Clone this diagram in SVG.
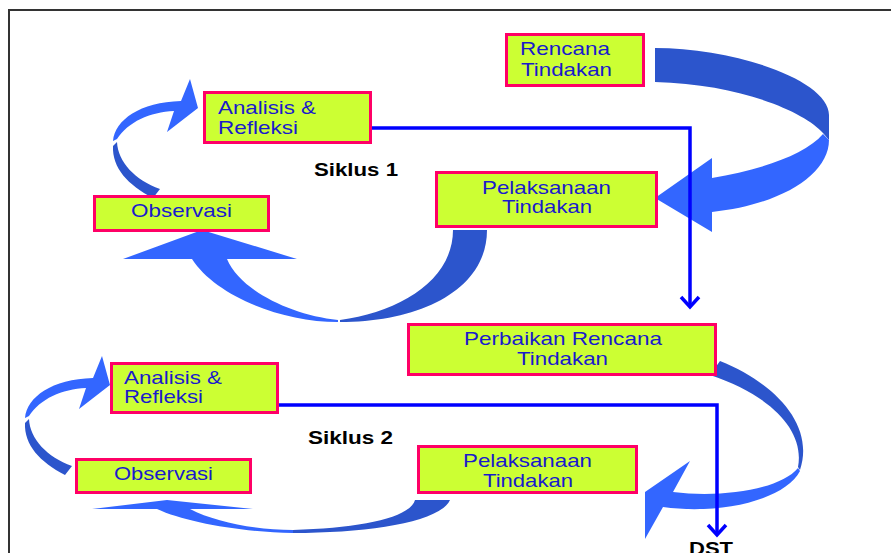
<svg xmlns="http://www.w3.org/2000/svg" width="891" height="553" viewBox="0 0 891 553">
<style>
.box{fill:#CCFF33;stroke:#FF0066;stroke-width:3}
.t{font-family:"Liberation Sans",Arial,sans-serif;font-size:19px;fill:#1a1acc}
.b{font-family:"Liberation Sans",Arial,sans-serif;font-size:18px;font-weight:bold;fill:#000}
.dk{fill:#2C55CC}
.br{fill:#3366FF}
.ln{fill:none;stroke:#0000FF;stroke-width:3.5}
</style>
<rect x="0" y="0" width="891" height="553" fill="#fff"/>
<path d="M9,560 L9,10 L900,10" fill="none" stroke="#333" stroke-width="2"/>
<g id="arcs">
<path class="dk" d="M655,48 C735,48 829,80 829,115 L829,140 L823,133 C805,112 740,84 655,82 Z"/>
<path class="br" d="M829,140 C829,175 780,205 712,212 L712,232 L655,198 L712,158 L712,178 C760,170 805,155 823,134 Z"/>
<path class="dk" d="M453,230 L487,230 C487,290 420,322 340,322 L340,320 C400,312 453,280 453,230 Z"/>
<path class="br" d="M338,322 C280,322 215,295 192,259 L123,259 L202,230 L297,259 L227,259 C240,290 290,315 338,320 Z"/>
<path class="dk" d="M153,198 C128,185 112,168 113,146 L117,142 C118,162 135,180 160,189 Z"/>
<path class="br" d="M113,141 C115,120 140,102 181,101 L190,79 L198,108 L167,132 L174,111 C150,112 128,122 117,139 Z"/>
<path class="dk" d="M720,361 C775,383 815,425 800,470 L798,467 C805,430 770,395 710,375 Z"/>
<path class="br" d="M800,471 C785,500 720,515 663,507 L645,539 L645,492 L690,461 L673,492 C720,498 780,490 798,468 Z"/>
<path class="dk" d="M415,500 L450,500 C440,522 370,533 293,533 L293,530 C360,528 410,518 415,500 Z"/>
<path class="br" d="M293,533 C240,532 185,522 157,509 L92,509 L167,500 L253,509 L190,509 C215,522 255,530 293,530 Z"/>
<g transform="translate(-88,277)">
<path class="dk" d="M153,198 C128,185 112,168 113,146 L117,142 C118,162 135,180 160,189 Z"/>
<path class="br" d="M113,141 C115,120 140,102 181,101 L190,79 L198,108 L167,132 L174,111 C150,112 128,122 117,139 Z"/>
</g>
</g>
<g id="rencana">
<rect class="box" x="506.5" y="34.5" width="137" height="51"/>
<text class="t" x="520" y="55" textLength="90" lengthAdjust="spacingAndGlyphs">Rencana</text>
<text class="t" x="521" y="76" textLength="91" lengthAdjust="spacingAndGlyphs">Tindakan</text>
</g>
<g id="analisis1">
<rect class="box" x="204.5" y="92.5" width="166" height="50"/>
<text class="t" x="218" y="114" textLength="98" lengthAdjust="spacingAndGlyphs">Analisis &amp;</text>
<text class="t" x="218" y="134" textLength="80" lengthAdjust="spacingAndGlyphs">Refleksi</text>
</g>
<g id="pelaksanaan1">
<rect class="box" x="436.5" y="172.5" width="220" height="54"/>
<text class="t" x="482" y="194" textLength="129" lengthAdjust="spacingAndGlyphs">Pelaksanaan</text>
<text class="t" x="502" y="213" textLength="90" lengthAdjust="spacingAndGlyphs">Tindakan</text>
</g>
<g id="observasi1">
<rect class="box" x="94.5" y="196.5" width="174" height="34"/>
<text class="t" x="131" y="217" textLength="101" lengthAdjust="spacingAndGlyphs">Observasi</text>
</g>
<g id="siklus1">
<text class="b" x="314" y="176" textLength="84" lengthAdjust="spacingAndGlyphs">Siklus 1</text>
</g>
<g id="perbaikan">
<rect class="box" x="408.5" y="324.5" width="307" height="50"/>
<text class="t" x="464" y="345" textLength="198" lengthAdjust="spacingAndGlyphs">Perbaikan Rencana</text>
<text class="t" x="517" y="365" textLength="91" lengthAdjust="spacingAndGlyphs">Tindakan</text>
</g>
<g id="analisis2">
<rect class="box" x="111.5" y="363.5" width="166" height="49"/>
<text class="t" x="124" y="384" textLength="98" lengthAdjust="spacingAndGlyphs">Analisis &amp;</text>
<text class="t" x="124" y="403" textLength="79" lengthAdjust="spacingAndGlyphs">Refleksi</text>
</g>
<g id="siklus2">
<text class="b" x="308" y="444" textLength="85" lengthAdjust="spacingAndGlyphs">Siklus 2</text>
</g>
<g id="pelaksanaan2">
<rect class="box" x="418.5" y="446.5" width="218" height="46"/>
<text class="t" x="463" y="467" textLength="129" lengthAdjust="spacingAndGlyphs">Pelaksanaan</text>
<text class="t" x="483" y="487" textLength="90" lengthAdjust="spacingAndGlyphs">Tindakan</text>
</g>
<g id="observasi2">
<rect class="box" x="76.5" y="459.5" width="174" height="33"/>
<text class="t" x="114" y="480" textLength="99" lengthAdjust="spacingAndGlyphs">Observasi</text>
</g>
<g id="dst">
<text class="b" x="689" y="555" textLength="44" lengthAdjust="spacingAndGlyphs">DST</text>
</g>
<g id="connectors">
<polyline class="ln" points="372,128 690,128 690,307"/>
<polyline class="ln" points="681,297 690,307 699,297"/>
<polyline class="ln" points="279,405 717,405 717,535"/>
<polyline class="ln" points="708,525 717,535 726,525"/>
</g>
</svg>
